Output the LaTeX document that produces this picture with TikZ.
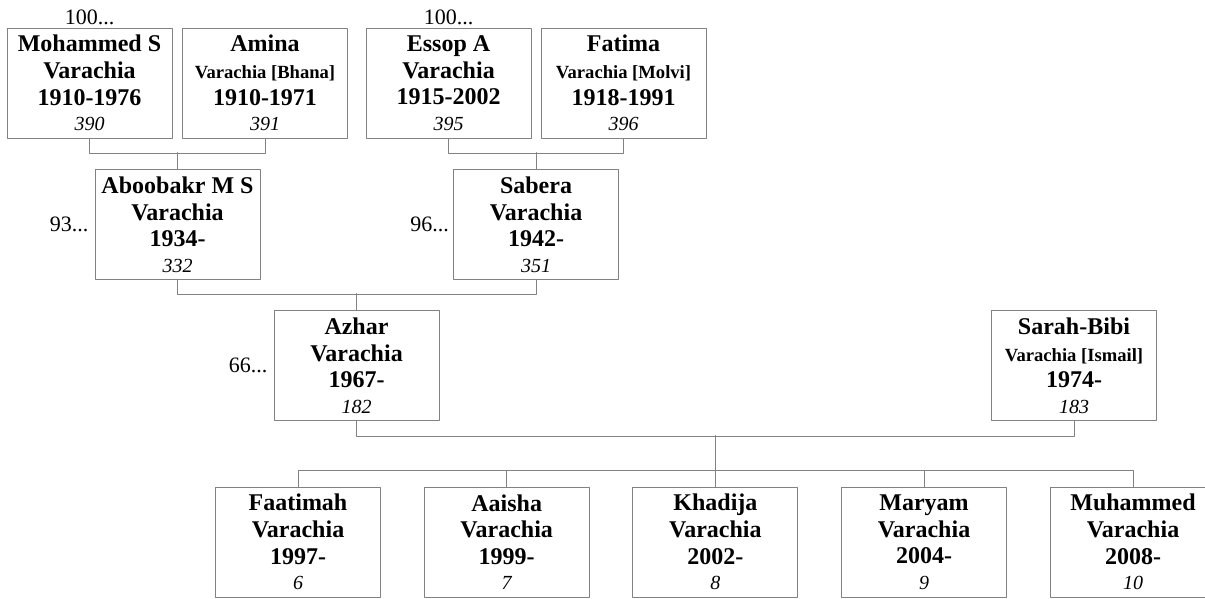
\documentclass[tikz,border=0pt]{standalone}
\usepackage{fontspec}
\setmainfont{Liberation Serif}
\usetikzlibrary{positioning}
\definecolor{boxgray}{RGB}{130,130,130}
\tikzset{
  person/.style={draw=boxgray, line width=1pt, minimum width=165pt, minimum height=110pt,
    inner sep=0pt, align=center, font=\fontsize{24}{26.7}\selectfont\bfseries},
  link/.style={draw=boxgray, line width=1pt},
  more/.style={font=\fontsize{22}{24}\selectfont, inner sep=2pt}
}
\newcommand{\maiden}[1]{{\fontsize{18.6}{26.7}\selectfont #1}}
\newcommand{\idno}[1]{{\fontsize{20}{26.7}\selectfont\mdseries\itshape #1}}
\begin{document}
\begin{tikzpicture}[x=1pt,y=-1pt,line cap=round,line join=round]
  \useasboundingbox (0,0) rectangle (1205,598);
  % grandparents
  \node[person] (mohammed) at (89.5,83) {Mohammed S\\Varachia\\1910-1976\\[-1.5pt]\idno{390}};
  \node[person] (amina) at (265,83) {Amina\\\maiden{Varachia [Bhana]}\\1910-1971\\[-1.5pt]\idno{391}};
  \node[person] (essop) at (448.5,83) {Essop A\\Varachia\\1915-2002\\[-1.5pt]\idno{395}};
  \node[person] (fatima) at (623.5,83) {Fatima\\\maiden{Varachia [Molvi]}\\1918-1991\\[-1.5pt]\idno{396}};
  % parents
  \node[person] (aboobakr) at (177.5,224.5) {Aboobakr M S\\Varachia\\1934-\\[-1.5pt]\idno{332}};
  \node[person] (sabera) at (536,224.5) {Sabera\\Varachia\\1942-\\[-1.5pt]\idno{351}};
  % couple
  \node[person] (azhar) at (356.5,365.5) {Azhar\\Varachia\\1967-\\[-1.5pt]\idno{182}};
  \node[person] (sarah) at (1074,365.5) {Sarah-Bibi\\\maiden{Varachia [Ismail]}\\1974-\\[-1.5pt]\idno{183}};
  % children
  \node[person] (faatimah) at (298,542) {Faatimah\\Varachia\\1997-\\[-1.5pt]\idno{6}};
  \node[person] (aaisha) at (506.7,542) {Aaisha\\Varachia\\1999-\\[-1.5pt]\idno{7}};
  \node[person] (khadija) at (715.4,542) {Khadija\\Varachia\\2002-\\[-1.5pt]\idno{8}};
  \node[person] (maryam) at (924,542) {Maryam\\Varachia\\2004-\\[-1.5pt]\idno{9}};
  \node[person] (muhammed) at (1133,542) {Muhammed\\Varachia\\2008-\\[-1.5pt]\idno{10}};
  % more ancestors
  \node[more, above=0pt of mohammed] (moreM) {100...};
  \node[more, above=0pt of essop] (moreE) {100...};
  \node[more, left=4pt of aboobakr] (moreA) {93...};
  \node[more, left=2pt of sabera] (moreS) {96...};
  \node[more, left=4pt of azhar] (moreZ) {66...};
  % links
  \draw[link] (mohammed.south) -- ++(0,15) -| (amina.south);
  \draw[link] (aboobakr.north) -- ++(0,-16.5);
  \draw[link] (essop.south) -- ++(0,15) -| (fatima.south);
  \draw[link] (sabera.north) -- ++(0,-16.5);
  \draw[link] (aboobakr.south) -- ++(0,14.5) -| (sabera.south);
  \draw[link] (azhar.north) -- ++(0,-16.5);
  \draw[link] (azhar.south) -- ++(0,15.5) -| (sarah.south);
  \draw[link] (khadija.north) -- ++(0,-51);
  \draw[link] (faatimah.north) -- ++(0,-16) -| (muhammed.north);
  \foreach \k in {aaisha,maryam}
    \draw[link] (\k.north) -- ++(0,-16);
\end{tikzpicture}
\end{document}
